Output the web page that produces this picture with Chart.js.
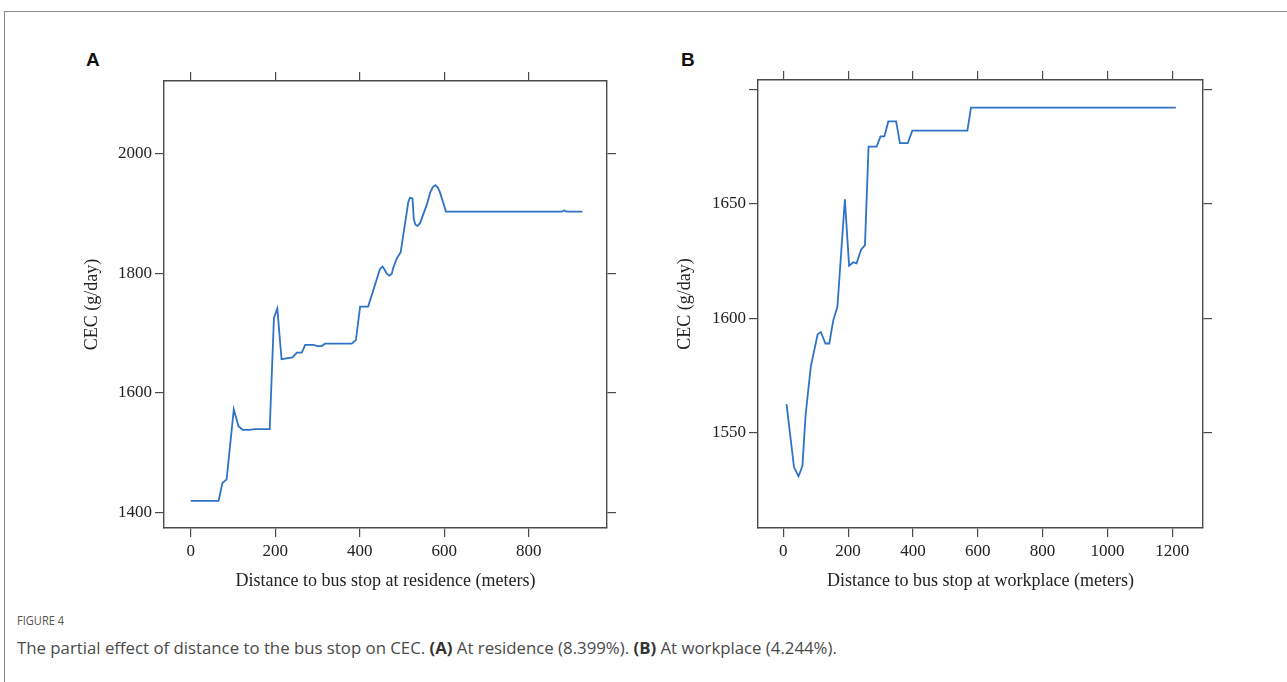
<!DOCTYPE html>
<html>
<head>
<meta charset="utf-8">
<script src="https://cdn.jsdelivr.net/npm/chart.js@4/dist/chart.umd.min.js"></script>
<style>
  html, body { margin: 0; padding: 0; background: #fff; }
  body { width: 1287px; height: 682px; position: relative; overflow: hidden; }
  .frame { position: absolute; left: 4px; top: 11px; width: 1400px; height: 800px;
           border-top: 1.5px solid #8a8a8a; border-left: 1.5px solid #8a8a8a; }
  .panel { position: absolute; top: 40px; width: 580px; height: 570px; }
  .letter { position: absolute; font: bold 19px "Liberation Sans", Arial, sans-serif; color: #111; }
  .fig { position: absolute; left: 17px; top: 611px; font: 13px "Open Sans", sans-serif; color: #555;
         transform: scaleX(0.85); transform-origin: left top; }
  .cap { position: absolute; left: 17px; top: 636px; font: 16.8px "Open Sans", sans-serif; color: #4a4a4a; white-space: nowrap; }
  .cap b { color: #333; }
</style>
</head>
<body>
<div class="frame"></div>
<div class="letter" style="left:86px; top:49px;">A</div>
<div class="letter" style="left:681px; top:49px;">B</div>
<div class="panel" style="left:60px;"><canvas id="chartA" width="580" height="570"></canvas></div>
<div class="panel" style="left:655px;"><canvas id="chartB" width="580" height="570"></canvas></div>
<div class="fig">FIGURE 4</div>
<div class="cap">The partial effect of distance to the bus stop on CEC. <b>(A)</b> At residence (8.399%). <b>(B)</b> At workplace (4.244%).</div>

<script>
// Panel A: distance to bus stop at residence
const distA = [0, 66, 75, 85, 102, 113, 123, 140, 150, 187, 197, 205, 215, 241, 251, 263, 271, 290, 300, 310, 318, 381, 391, 401, 420, 448, 454, 458, 464, 470, 476, 479, 488, 497, 515, 519, 525, 528, 532, 537, 543, 559, 567, 573, 579, 585, 590, 596, 604, 878, 884, 890, 927];
const cecA  = [1419, 1419, 1449, 1455, 1572, 1544, 1538, 1538, 1539, 1539, 1725, 1741, 1656, 1659, 1667, 1667, 1680, 1680, 1678, 1678, 1682, 1682, 1688, 1744, 1744, 1807, 1811, 1807, 1799, 1796, 1799, 1808, 1825, 1835, 1919, 1926, 1925, 1890, 1881, 1879, 1884, 1915, 1935, 1944, 1947, 1943, 1935, 1922, 1903, 1903, 1905, 1903, 1903];
const xTicksA = [0, 200, 400, 600, 800];
const yTicksA = [1400, 1600, 1800, 2000];

// Panel B: distance to bus stop at workplace
const distB = [10, 23, 33, 47, 59, 69, 85, 106, 116, 130, 142, 154, 167, 190, 203, 216, 226, 240, 252, 263, 288, 300, 312, 324, 348, 360, 384, 398, 568, 579, 1211];
const cecB  = [1562.5, 1547, 1535, 1531, 1535.5, 1558, 1579, 1593, 1594, 1589, 1589, 1599, 1605, 1652, 1623, 1624.5, 1624, 1630, 1632, 1675, 1675, 1679.5, 1679.5, 1686, 1686, 1676.5, 1676.5, 1682, 1682, 1692, 1692];
const xTicksB = [0, 200, 400, 600, 800, 1000, 1200];
const yTicksB = [1550, 1600, 1650, 1700];

const axisColor = '#4a4a4a';
const serif = '"Liberation Serif", "Times New Roman", serif';

function fixedTicks(values) {
    return function (scale) {
        scale.ticks = values.map(v => ({ value: v }));
    };
}

function makeChart(id, xs, ys, opt) {
    const points = xs.map((x, i) => ({ x: x, y: ys[i] }));
    const grid = { drawOnChartArea: false, drawTicks: true, tickLength: 9, color: axisColor, lineWidth: 1.2 };
    const border = { display: true, color: axisColor, width: 1.4 };
    const tickFont = { family: serif, size: 17 };
    const titleFont = { family: serif, size: 18 };
    return new Chart(document.getElementById(id), {
        type: 'line',
        data: {
            datasets: [{
                data: points,
                borderColor: '#2e73c6',
                borderWidth: 1.8,
                pointRadius: 0,
                tension: 0,
                fill: false
            }]
        },
        options: {
            responsive: false,
            animation: false,
            layout: { padding: 0 },
            plugins: { legend: { display: false }, tooltip: { enabled: false } },
            scales: {
                x: {
                    type: 'linear', position: 'bottom', min: opt.xMin, max: opt.xMax,
                    grid: grid, border: border,
                    afterBuildTicks: fixedTicks(opt.xTicks),
                    afterFit: s => { s.height = opt.bottom; },
                    ticks: { font: tickFont, color: '#222', padding: 4, maxRotation: 0, callback: v => String(v) },
                    title: { display: true, text: opt.xTitle, font: titleFont, color: '#222', padding: { top: 0, bottom: 17.5 } }
                },
                x2: {
                    type: 'linear', position: 'top', min: opt.xMin, max: opt.xMax,
                    grid: grid, border: border,
                    afterBuildTicks: fixedTicks(opt.xTicks),
                    afterFit: s => { s.height = opt.top; },
                    ticks: { display: false }
                },
                y: {
                    type: 'linear', position: 'left', min: opt.yMin, max: opt.yMax,
                    grid: grid, border: border,
                    afterBuildTicks: fixedTicks(opt.yTicks),
                    afterFit: s => { s.width = opt.left; },
                    ticks: {
                        font: tickFont, color: '#222', padding: 3,
                        callback: v => (opt.hideTop && v === opt.yTicks[opt.yTicks.length - 1]) ? '' : String(v)
                    },
                    title: { display: true, text: 'CEC (g/day)', font: titleFont, color: '#222', padding: { top: opt.yTitlePad, bottom: 0 } }
                },
                y2: {
                    type: 'linear', position: 'right', min: opt.yMin, max: opt.yMax,
                    grid: grid, border: border,
                    afterBuildTicks: fixedTicks(opt.yTicks),
                    afterFit: s => { s.width = opt.right; },
                    ticks: { display: false }
                }
            }
        }
    });
}

makeChart('chartA', distA, cecA, {
    xMin: -63.2, xMax: 985.3, yMin: 1373.7, yMax: 2121.4,
    xTicks: xTicksA, yTicks: yTicksA, hideTop: false,
    left: 104, right: 33, top: 41, bottom: 82, yTitlePad: 21,
    xTitle: 'Distance to bus stop at residence (meters)'
});

makeChart('chartB', distB, cecB, {
    xMin: -78, xMax: 1294.8, yMin: 1508.4, yMax: 1704.1,
    xTicks: xTicksB, yTicks: yTicksB, hideTop: true,
    left: 103, right: 32, top: 40, bottom: 82, yTitlePad: 19.2,
    xTitle: 'Distance to bus stop at workplace (meters)'
});
</script>
</body>
</html>
